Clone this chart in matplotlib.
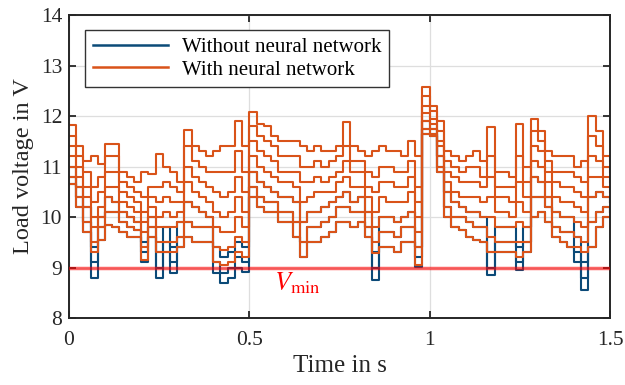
import numpy as np
import matplotlib
matplotlib.use("Agg")
import matplotlib.pyplot as plt
from matplotlib.lines import Line2D

plt.rcParams['font.family'] = ['Liberation Serif', 'DejaVu Serif']
plt.rcParams['mathtext.fontset'] = 'stix'

# time grid (s), 0.02 s steps
t = [0.00, 0.02, 0.04, 0.06, 0.08, 0.10, 0.12, 0.14, 0.16, 0.18,
     0.20, 0.22, 0.24, 0.26, 0.28, 0.30, 0.32, 0.34, 0.36, 0.38,
     0.40, 0.42, 0.44, 0.46, 0.48, 0.50, 0.52, 0.54, 0.56, 0.58,
     0.60, 0.62, 0.64, 0.66, 0.68, 0.70, 0.72, 0.74, 0.76, 0.78,
     0.80, 0.82, 0.84, 0.86, 0.88, 0.90, 0.92, 0.94, 0.96, 0.98,
     1.00, 1.02, 1.04, 1.06, 1.08, 1.10, 1.12, 1.14, 1.16, 1.18,
     1.20, 1.22, 1.24, 1.26, 1.28, 1.30, 1.32, 1.34, 1.36, 1.38,
     1.40, 1.42, 1.44, 1.46, 1.48, 1.50]

# Load voltage with neural network (V)
with_nn_1 = [11.82,11.4,11.1,11.2,11.05,11.45,11.45,10.9,10.8,10.7,10.9,10.85,11.25,11.0,10.9,10.7,11.72,11.4,11.3,11.2,11.3,11.4,11.4,11.9,11.4,12.08,11.85,11.8,11.6,11.5,11.5,11.5,11.4,11.3,11.4,11.3,11.3,11.4,11.88,11.4,11.3,11.2,11.3,11.4,11.3,11.3,11.2,11.5,11.2,12.57,12.2,11.9,11.3,11.2,11.1,11.2,11.3,11.1,11.78,10.9,10.9,10.8,11.85,11.0,11.95,11.7,11.3,11.2,11.2,11.2,11.0,11.1,12.01,11.7,11.2,11.1]
with_nn_2 = [11.6,11.2,10.9,10.6,10.8,11.2,11.2,10.7,10.6,10.5,10.4,10.6,10.6,10.7,10.6,10.5,11.4,11.1,11.0,10.9,10.9,10.9,10.9,11.3,10.9,11.8,11.6,11.5,11.4,11.2,11.2,11.2,11.0,11.0,11.1,11.0,11.1,11.2,11.4,11.1,11.1,10.9,10.8,11.0,11.0,10.9,10.9,11.1,10.6,12.4,12.1,11.7,11.1,11.0,10.9,11.0,11.0,10.8,11.2,10.6,10.6,10.6,11.2,10.7,11.7,11.5,11.1,10.9,10.9,10.9,10.8,10.7,11.6,11.4,11.0,10.9]
with_nn_3 = [11.4,11.0,10.6,10.3,10.5,10.9,10.9,10.5,10.4,10.3,10.1,10.4,10.3,10.4,10.3,10.3,11.0,10.8,10.7,10.6,10.5,10.4,10.5,10.8,10.5,11.5,11.3,11.2,11.1,10.9,10.9,10.9,10.7,10.7,10.8,10.7,10.8,10.9,11.1,10.9,10.9,10.6,10.5,10.7,10.7,10.6,10.6,10.8,10.3,12.2,11.95,11.5,10.9,10.8,10.7,10.7,10.7,10.6,10.8,10.4,10.4,10.3,10.7,10.4,11.4,11.3,10.9,10.7,10.6,10.6,10.5,10.4,11.2,11.1,10.8,10.7]
with_nn_4 = [11.2,10.8,10.4,10.0,10.2,10.6,10.6,10.3,10.2,10.1,9.9,10.2,10.0,10.1,10.0,10.1,10.7,10.5,10.4,10.3,10.1,10.0,10.1,10.4,10.1,11.2,11.0,10.9,10.8,10.7,10.7,10.6,10.3,10.4,10.5,10.5,10.5,10.7,10.8,10.6,10.6,10.4,10.1,10.4,10.3,10.3,10.3,10.5,10.0,12.05,11.85,11.4,10.7,10.5,10.4,10.4,10.4,10.3,10.4,10.1,10.1,10.0,10.3,10.1,11.1,11.0,10.7,10.4,10.3,10.3,10.2,10.1,10.8,10.8,10.6,10.5]
with_nn_5 = [11.0,10.6,10.2,9.8,10.0,10.4,10.3,10.1,10.0,9.9,9.7,10.0,9.8,9.8,9.8,9.9,10.3,10.2,10.1,10.0,9.8,9.7,9.7,10.0,9.8,10.9,10.7,10.6,10.5,10.4,10.4,10.3,9.9,10.1,10.1,10.2,10.3,10.4,10.5,10.3,10.4,10.1,9.8,10.0,10.0,9.9,10.0,10.1,9.7,11.9,11.75,11.2,10.5,10.3,10.2,10.1,10.1,10.0,10.0,9.8,9.8,9.8,9.9,9.8,10.8,10.7,10.4,10.1,10.0,10.0,9.9,9.8,10.4,10.5,10.4,10.3]
with_nn_6 = [10.8,10.4,9.9,9.5,9.8,10.1,10.1,9.9,9.8,9.75,9.4,9.8,9.5,9.5,9.5,9.6,9.9,9.8,9.8,9.8,9.4,9.35,9.4,9.6,9.5,10.6,10.4,10.3,10.3,10.1,10.1,9.9,9.5,9.8,9.8,9.9,10.0,10.2,10.2,10.1,10.1,9.8,9.5,9.7,9.7,9.6,9.8,9.8,9.4,11.75,11.65,11.0,10.2,10.0,10.0,9.9,9.8,9.8,9.6,9.5,9.5,9.5,9.5,9.5,10.4,10.4,10.2,9.8,9.7,9.7,9.6,9.5,9.9,10.1,10.2,10.1]
with_nn_7 = [10.65,10.2,9.7,9.3,9.55,9.85,9.8,9.7,9.6,9.6,9.15,9.6,9.3,9.3,9.3,9.4,9.6,9.5,9.5,9.5,9.1,9.05,9.1,9.3,9.2,10.4,10.2,10.1,10.1,9.9,9.9,9.6,9.2,9.5,9.5,9.6,9.7,9.9,9.9,9.8,9.9,9.6,9.28,9.4,9.4,9.3,9.5,9.5,9.05,11.65,11.6,10.9,10.0,9.8,9.75,9.6,9.55,9.5,9.3,9.3,9.3,9.3,9.2,9.3,10.0,10.1,9.9,9.6,9.5,9.4,9.4,9.3,9.4,9.8,10.0,10.0]

# Load voltage without neural network (V)
without_nn_1 = [10.65,10.2,9.7,8.79,9.55,9.85,9.8,9.7,9.6,9.6,9.1,9.6,8.79,9.3,8.89,9.4,9.6,9.5,9.5,9.5,8.9,8.7,8.8,9.0,8.92,10.4,10.2,10.1,10.1,9.9,9.9,9.6,9.2,9.5,9.5,9.6,9.7,9.9,9.9,9.8,9.9,9.6,8.76,9.4,9.4,9.3,9.5,9.5,9.02,11.65,11.6,10.9,10.0,9.8,9.75,9.6,9.55,9.5,8.85,9.3,9.3,9.3,8.95,9.3,10.0,10.1,9.9,9.6,9.5,9.4,9.1,8.56,9.4,9.8,10.0,10.0]
without_nn_2 = [10.8,10.4,9.9,9.1,9.8,10.1,10.1,9.9,9.8,9.75,9.3,9.8,9.0,9.5,9.1,9.6,9.9,9.8,9.8,9.8,9.1,8.9,9.0,9.2,9.1,10.6,10.4,10.3,10.3,10.1,10.1,9.9,9.5,9.8,9.8,9.9,10.0,10.2,10.2,10.1,10.1,9.8,9.0,9.7,9.7,9.6,9.8,9.8,9.2,11.75,11.65,11.0,10.2,10.0,10.0,9.9,9.8,9.8,9.0,9.5,9.5,9.5,9.1,9.5,10.4,10.4,10.2,9.8,9.7,9.7,9.3,8.8,9.9,10.1,10.2,10.1]
without_nn_3 = [11.0,10.6,10.2,9.4,10.0,10.4,10.3,10.1,10.0,9.9,9.5,10.0,9.3,9.8,9.4,9.9,10.3,10.2,10.1,10.0,9.4,9.2,9.3,9.5,9.4,10.9,10.7,10.6,10.5,10.4,10.4,10.3,9.9,10.1,10.1,10.2,10.3,10.4,10.5,10.3,10.4,10.1,9.3,10.0,10.0,9.9,10.0,10.1,9.4,11.9,11.75,11.2,10.5,10.3,10.2,10.1,10.1,10.0,9.3,9.8,9.8,9.8,9.4,9.8,10.8,10.7,10.4,10.1,10.0,10.0,9.6,9.1,10.4,10.5,10.4,10.3]

v_min = 9.0
legend_labels = ['Without neural network', 'With neural network']

blue = '#0b4a78'
orange = '#d95319'

fig = plt.figure(figsize=(6.25, 3.85), dpi=100)
ax = fig.add_axes([0.1104, 0.174, 0.8656, 0.787])

for y in (without_nn_1, without_nn_2, without_nn_3):
    ax.plot(t, y, color=blue, lw=1.5, drawstyle='steps-post')
for y in (with_nn_7, with_nn_6, with_nn_5, with_nn_4, with_nn_3, with_nn_2, with_nn_1):
    ax.plot(t, y, color=orange, lw=1.5, drawstyle='steps-post')

ax.axhline(v_min, color=(1, 0, 0, 0.6), lw=2.5, zorder=5)
ax.text(0.634, 8.69, r'$V_{\mathrm{min}}$', color='red', fontsize=19,
        ha='center', va='center')

ax.set_xlim(0, 1.5)
ax.set_ylim(8, 14)
ax.set_xticks([0, 0.5, 1, 1.5])
ax.set_xticklabels(['0', '0.5', '1', '1.5'])
ax.set_yticks([8, 9, 10, 11, 12, 13, 14])
ax.grid(True, color='#dedede', lw=0.9)
ax.set_axisbelow(True)
ax.tick_params(direction='in', top=True, right=True, labelsize=15.5,
               length=5, width=1.3, colors='#262626')
ax.tick_params(axis='x', pad=9)
ax.tick_params(axis='y', pad=5)
for s in ax.spines.values():
    s.set_linewidth(1.4)
    s.set_color('#262626')
ax.set_xlabel('Time in s', fontsize=18, labelpad=4, color='#262626')
ax.set_ylabel('Load voltage in V', fontsize=17.5, labelpad=5, color='#262626')

handles = [Line2D([], [], color=blue, lw=1.8), Line2D([], [], color=orange, lw=1.8)]
leg = ax.legend(handles, legend_labels,
                loc='upper left', bbox_to_anchor=(0.03, 0.95), fontsize=15,
                handlelength=3.6, fancybox=False, framealpha=1,
                edgecolor='#333333', borderpad=0.35, labelspacing=0.15,
                handletextpad=0.7, borderaxespad=0)
leg.get_frame().set_linewidth(1.0)

fig.savefig('out.png', dpi=100)
